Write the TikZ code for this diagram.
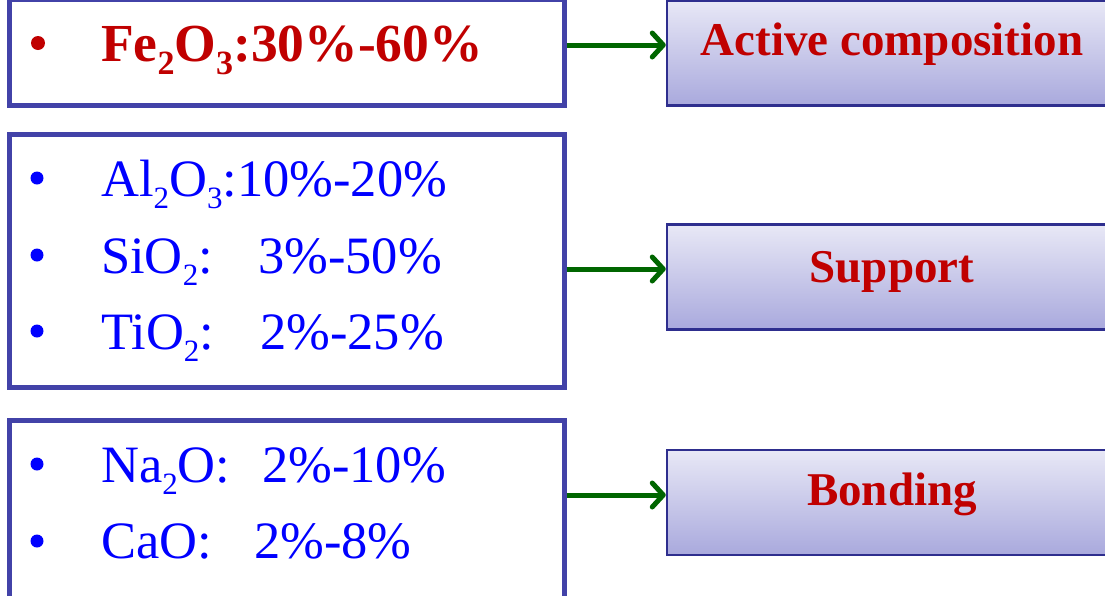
\documentclass[tikz,border=0pt]{standalone}
\usepackage{fontspec}
\setmainfont{Liberation Serif}
\usetikzlibrary{arrows.meta}
\definecolor{txtblue}{HTML}{0000FF}
\definecolor{txtred}{HTML}{C00000}
\definecolor{lborder}{HTML}{4242A8}
\definecolor{rborder}{HTML}{2E2E8E}
\definecolor{gtop}{HTML}{E8E8F6}
\definecolor{gbot}{HTML}{A9A9DD}
\definecolor{arrgreen}{HTML}{006600}
\newcommand\subr[1]{\raisebox{-12pt}{\fontsize{31}{31}\selectfont #1}}
\newcommand\subb[1]{\raisebox{-13pt}{\fontsize{34}{34}\selectfont\bfseries #1}}
\tikzset{
  lbox/.style={draw=lborder, line width=5pt, rectangle, inner sep=0pt},
  rbox/.style={draw=rborder, line width=2.5pt, rectangle, inner sep=0pt,
    top color=gtop, bottom color=gbot, minimum width=450pt, minimum height=105pt},
  regtxt/.style={anchor=base west, inner sep=0pt, text=txtblue,
    font=\fontsize{52.5}{60}\selectfont},
  boldtxt/.style={anchor=base west, inner sep=0pt, text=txtred,
    font=\fontsize{53.5}{60}\selectfont\bfseries},
  lbl/.style={anchor=base, inner sep=0pt, text=txtred,
    font=\fontsize{47}{55}\selectfont\bfseries},
  conn/.style={draw=arrgreen, line width=5pt,
    -{Straight Barb[length=11pt,width=24pt,line cap=round,line join=round]}},
}
\begin{document}
\begin{tikzpicture}[x=1pt,y=-1pt]
\useasboundingbox (0,0) rectangle (1105,595);
% left boxes
\node[lbox, minimum width=554.5pt, minimum height=106.5pt] (b1) at (286.75,52.25) {};
\node[lbox, minimum width=554.5pt, minimum height=252.5pt] (b2) at (286.75,260.75) {};
\node[lbox, minimum width=554.5pt, minimum height=190pt] (b3) at (286.75,515) {};
% right boxes
\node[rbox] (act) at (892,53) {};
\node[rbox] (sup) at (892,277) {};
\node[rbox] (bon) at (892,502.5) {};
\node[lbl] (actl) at (892,55) {Active composition};
\node[lbl] (supl) at (892,282) {Support};
\node[lbl] (bonl) at (892,505) {Bonding};
% bullets
\fill[txtred] (38,43) circle (7);
\fill[txtblue] (37,178) circle (6.5);
\fill[txtblue] (37,255) circle (6.5);
\fill[txtblue] (37,331) circle (6.5);
\fill[txtblue] (37,464) circle (6.5);
\fill[txtblue] (37,541) circle (6.5);
% texts
\node[boldtxt] (fe) at (101,61) {Fe\subb{2}O\subb{3}:30\%-60\%};
\node[regtxt] (al) at (101,196) {Al\subr{2}O\subr{3}:10\%-20\%};
\node[regtxt] (si) at (101,273) {SiO\subr{2}:};
\node[regtxt] (sip) at (258,273) {3\%-50\%};
\node[regtxt] (ti) at (101,349) {TiO\subr{2}:};
\node[regtxt] (tip) at (260,349) {2\%-25\%};
\node[regtxt] (na) at (101,482) {Na\subr{2}O:};
\node[regtxt] (nap) at (262,482) {2\%-10\%};
\node[regtxt] (ca) at (101,558) {CaO:};
\node[regtxt] (cap) at (254,558) {2\%-8\%};
% arrows
\draw[conn] (b1.east |- 0,45) -- (act.west |- 0,45);
\draw[conn] (b2.east |- 0,269) -- (sup.west |- 0,269);
\draw[conn] (b3.east |- 0,495) -- (bon.west |- 0,495);
\end{tikzpicture}
\end{document}
